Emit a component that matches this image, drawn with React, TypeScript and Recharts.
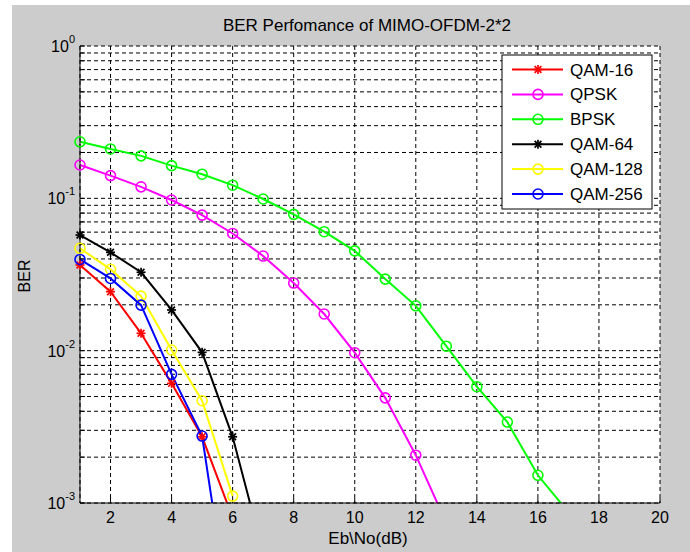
import React from 'react';
import { LineChart, Line, XAxis, YAxis, CartesianGrid } from 'recharts';

// ---- data ----
const xValues = [1, 2, 3, 4, 5, 6, 7, 8, 9, 10, 11, 12, 13, 14, 15, 16, 17];
const qam16 = [0.0365, 0.0244, 0.013, 0.0061, 0.00272, 0.0008];
const qpsk = [0.1655, 0.141, 0.119, 0.0975, 0.0776, 0.0588, 0.0418, 0.0278, 0.0174, 0.0097, 0.0049, 0.00206, 0.00074];
const bpsk = [0.235, 0.211, 0.19, 0.164, 0.144, 0.122, 0.099, 0.0785, 0.0604, 0.0452, 0.0295, 0.0197, 0.0107, 0.0058, 0.0034, 0.00152, 0.00087];
const qam64 = [0.0574, 0.0442, 0.0327, 0.0185, 0.00975, 0.00272, 0.00047];
const qam128 = [0.047, 0.0342, 0.0228, 0.0101, 0.00469, 0.00111];
const qam256 = [0.0397, 0.0298, 0.0199, 0.00699, 0.00275, 0.00013];

const xTicks = [2, 4, 6, 8, 10, 12, 14, 16, 18, 20];
const yTicks = [
  0.001, 0.002, 0.003, 0.004, 0.005, 0.006, 0.007, 0.008, 0.009,
  0.01, 0.02, 0.03, 0.04, 0.05, 0.06, 0.07, 0.08, 0.09,
  0.1, 0.2, 0.3, 0.4, 0.5, 0.6, 0.7, 0.8, 0.9, 1,
];
const yDomain: [number, number] = [0.001, 1];

const titleText = 'BER Perfomance of MIMO-OFDM-2*2';
const xLabel = 'Eb\\No(dB)';
const yLabel = 'BER';

type Marker = 'star' | 'circle';
const series: { key: string; name: string; color: string; marker: Marker; values: number[] }[] = [
  { key: 'qam16', name: 'QAM-16', color: '#ff0000', marker: 'star', values: qam16 },
  { key: 'qpsk', name: 'QPSK', color: '#ff00ff', marker: 'circle', values: qpsk },
  { key: 'bpsk', name: 'BPSK', color: '#00ff00', marker: 'circle', values: bpsk },
  { key: 'qam64', name: 'QAM-64', color: '#000000', marker: 'star', values: qam64 },
  { key: 'qam128', name: 'QAM-128', color: '#ffff00', marker: 'circle', values: qam128 },
  { key: 'qam256', name: 'QAM-256', color: '#0000ff', marker: 'circle', values: qam256 },
];

// line values (may go below the axis and get clipped) and marker values (only those inside the axis)
const data = xValues.map((x, i) => {
  const row: Record<string, number | undefined> = { x };
  series.forEach((s) => {
    const v = s.values[i];
    row[s.key] = v;
    row[`${s.key}_m`] = v !== undefined && v >= yDomain[0] ? v : undefined;
  });
  return row;
});

const FONT = 'Arial, "Liberation Sans", Helvetica, sans-serif';

function MarkerShape({ cx, cy, color, marker }: { cx: number; cy: number; color: string; marker: Marker }) {
  if (marker === 'circle') {
    return <circle cx={cx} cy={cy} r={5} fill="none" stroke={color} strokeWidth={1.6} />;
  }
  const s = 4.5;
  const d = s * 0.75;
  return (
    <g stroke={color} strokeWidth={1.7}>
      <line x1={cx - s} y1={cy} x2={cx + s} y2={cy} />
      <line x1={cx} y1={cy - s} x2={cx} y2={cy + s} />
      <line x1={cx - d} y1={cy - d} x2={cx + d} y2={cy + d} />
      <line x1={cx - d} y1={cy + d} x2={cx + d} y2={cy - d} />
    </g>
  );
}

const makeDot = (color: string, marker: Marker) => (props: any) => {
  const { cx, cy, index, value } = props;
  if (value == null || cx == null || cy == null || Number.isNaN(cx) || Number.isNaN(cy)) {
    return <g key={`d-${index}`} />;
  }
  return (
    <g key={`d-${index}`}>
      <MarkerShape cx={cx} cy={cy} color={color} marker={marker} />
    </g>
  );
};

const XTick = (props: any) => {
  const { x, y, payload } = props;
  return (
    <text x={x} y={y + 25} textAnchor="middle" fontSize={16} fontFamily={FONT} fill="#000">
      {payload.value}
    </text>
  );
};

const YTick = (props: any) => {
  const { x, y, payload } = props;
  const v = payload.value as number;
  const e = Math.log10(v);
  const r = Math.round(e);
  if (Math.abs(e - r) > 1e-6) return <g />;
  return (
    <text x={x - 10} y={y + 6} textAnchor="end" fontSize={16} fontFamily={FONT} fill="#000">
      <tspan>10</tspan>
      <tspan dy={-9} fontSize={11}>{String(r)}</tspan>
    </text>
  );
};

export default function App() {
  const W = 678;
  const H = 547;
  return (
    <div style={{ position: 'absolute', left: 0, top: 0, width: 690, height: 552, background: '#ffffff' }}>
      <div style={{ position: 'absolute', left: 12, top: 5, width: W, height: H, background: '#cccccc' }}>
        <LineChart
          width={W}
          height={H}
          data={data}
          margin={{ top: 41, right: 30, left: 0, bottom: 0 }}
        >
          <CartesianGrid
            stroke="#000"
            strokeDasharray="4 3"
            strokeWidth={1}
            fill="#ffffff"
            fillOpacity={1}
          />
          <XAxis
            dataKey="x"
            type="number"
            domain={[1, 20]}
            ticks={xTicks}
            height={49}
            tickSize={-5}
            tickMargin={0}
            tick={<XTick />}
            axisLine={{ stroke: '#000', strokeWidth: 1 }}
            tickLine={{ stroke: '#000' }}
          />
          <XAxis
            xAxisId="top"
            orientation="top"
            dataKey="x"
            type="number"
            domain={[1, 20]}
            ticks={xTicks}
            height={0}
            tickSize={-5}
            tick={false}
            axisLine={{ stroke: '#000', strokeWidth: 1 }}
            tickLine={{ stroke: '#000' }}
          />
          <YAxis
            scale="log"
            type="number"
            domain={yDomain}
            ticks={yTicks}
            width={68}
            allowDataOverflow
            tickSize={-5}
            tickMargin={0}
            interval={0}
            tick={<YTick />}
            axisLine={{ stroke: '#000', strokeWidth: 1 }}
            tickLine={{ stroke: '#000' }}
          />
          <YAxis
            yAxisId="right"
            orientation="right"
            scale="log"
            type="number"
            domain={yDomain}
            ticks={yTicks}
            width={0}
            allowDataOverflow
            interval={0}
            tickSize={-5}
            tick={false}
            axisLine={{ stroke: '#000', strokeWidth: 1 }}
            tickLine={{ stroke: '#000' }}
          />
          <YAxis yAxisId="markers" scale="log" type="number" domain={yDomain} hide width={0} />
          {series.map((s) => (
            <Line
              key={s.key}
              dataKey={s.key}
              name={s.name}
              stroke={s.color}
              strokeWidth={2}
              dot={false}
              activeDot={false}
              isAnimationActive={false}
              connectNulls={false}
              type="linear"
            />
          ))}
          {series.map((s) => (
            <Line
              key={`${s.key}_m`}
              yAxisId="markers"
              dataKey={`${s.key}_m`}
              stroke="none"
              strokeWidth={0}
              dot={makeDot(s.color, s.marker)}
              activeDot={false}
              isAnimationActive={false}
              connectNulls={false}
              legendType="none"
              type="linear"
            />
          ))}
        </LineChart>
        <svg
          width={W}
          height={H}
          style={{ position: 'absolute', left: 0, top: 0, pointerEvents: 'none' }}
        >
          <text x={355} y={26} textAnchor="middle" fontSize={17} fontFamily={FONT} fill="#000">
            {titleText}
          </text>
          <text x={356} y={539} textAnchor="middle" fontSize={17} fontFamily={FONT} fill="#000">
            {xLabel}
          </text>
          <text
            x={18}
            y={271}
            textAnchor="middle"
            fontSize={16}
            fontFamily={FONT}
            fill="#000"
            transform="rotate(-90, 18, 271)"
          >
            {yLabel}
          </text>
          <g>
            <rect x={490} y={50} width={150} height={154} fill="#ffffff" stroke="#000" strokeWidth={1} />
            {series.map((s, i) => {
              const cy = 64.5 + i * 24.9;
              return (
                <g key={s.key}>
                  <line x1={500} y1={cy} x2={551} y2={cy} stroke={s.color} strokeWidth={2} />
                  <MarkerShape cx={526} cy={cy} color={s.color} marker={s.marker} />
                  <text x={558} y={cy + 6} fontSize={17} fontFamily={FONT} fill="#000">
                    {s.name}
                  </text>
                </g>
              );
            })}
          </g>
        </svg>
      </div>
    </div>
  );
}
